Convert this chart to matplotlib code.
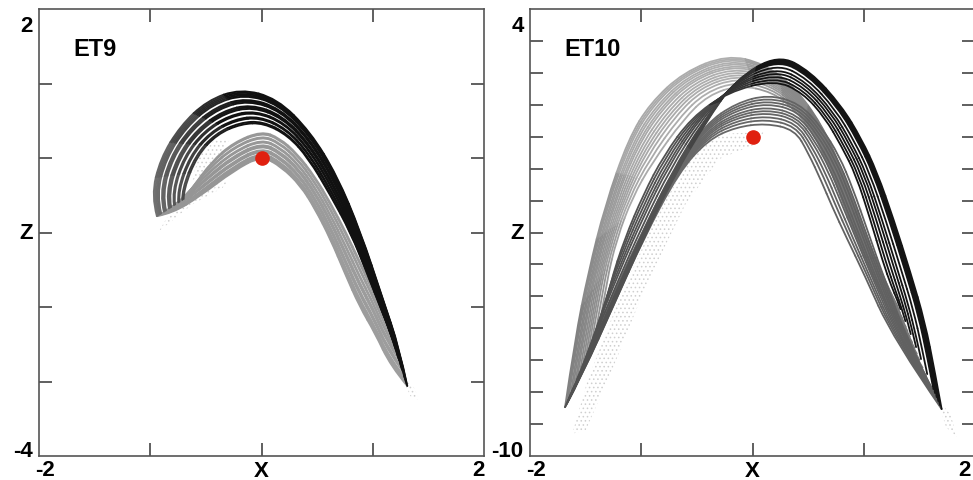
import numpy as np
import matplotlib
matplotlib.use("Agg")
from matplotlib import pyplot as plt
from matplotlib.path import Path
from matplotlib.patches import PathPatch, Polygon
from matplotlib.collections import PatchCollection

# ---- ET9: band edges, (x, z) pairs ----
et9_dark_outer = [(-0.94, -0.78), (-0.99, -0.51), (-0.91, -0.01), (-0.73, 0.43), (-0.49, 0.77),
                  (-0.19, 0.93), (0.14, 0.80), (0.44, 0.35), (0.68, -0.24), (0.89, -0.99),
                  (1.09, -1.89), (1.24, -2.56), (1.31, -3.06)]
et9_dark_inner = [(-0.70, -0.55), (-0.70, -0.42), (-0.58, 0.03), (-0.40, 0.32), (-0.18, 0.46),
                  (0.02, 0.47), (0.24, 0.30), (0.42, 0.00), (0.62, -0.50), (0.80, -1.00),
                  (0.95, -1.55), (1.08, -2.05), (1.15, -2.30)]
et9_gray_outer = [(1.31, -3.06), (1.16, -2.79), (1.02, -2.35), (0.88, -1.99), (0.75, -1.55),
                  (0.62, -1.09), (0.48, -0.68), (0.35, -0.37), (0.18, -0.12), (0.00, 0.03),
                  (-0.25, -0.17), (-0.55, -0.51), (-0.80, -0.74), (-0.94, -0.78)]
et9_gray_inner = [(1.15, -2.30), (1.08, -2.05), (0.98, -1.70), (0.88, -1.38), (0.76, -1.00),
                  (0.62, -0.60), (0.48, -0.25), (0.32, 0.06), (0.16, 0.27), (0.00, 0.36),
                  (-0.25, 0.21), (-0.45, -0.05), (-0.62, -0.40), (-0.70, -0.55)]
et9_strands = [0, 0.04, 0.08, 0.12, 0.16, 0.26, 0.3, 0.34, 0.45, 0.49, 0.53, 0.64, 0.68, 0.8, 0.84, 0.95, 1.0]
# faint scattered points inside the crescent
et9_haze = [[(-0.63, -0.30), (-0.56, 0.02), (-0.42, 0.24), (-0.28, 0.26), (-0.40, 0.02), (-0.55, -0.25)],
            [(-0.92, -0.98), (-0.62, -0.62), (-0.35, -0.40), (-0.30, -0.30), (-0.58, -0.52), (-0.85, -0.80)],
            [(1.28, -3.00), (1.36, -3.05), (1.42, -3.25), (1.34, -3.20)]]

# ---- ET10 ----
et10_light_outer = [(-1.685, -8.47), (-1.596, -6.34), (-1.476, -4.25), (-1.326, -2.16), (-1.116, -0.07),
                    (-0.92, 1.05), (-0.62, 2.02), (-0.23, 2.56), (0.10, 2.30), (0.38, 1.55),
                    (0.62, 0.40), (0.80, -1.00), (0.98, -2.70), (1.16, -4.30), (1.30, -5.30)]
et10_light_inner = [(-1.38, -6.00), (-1.31, -4.50), (-1.22, -3.20), (-1.08, -1.90), (-0.90, -0.80),
                    (-0.62, 0.55), (-0.40, 1.30), (-0.12, 1.62), (0.18, 1.40), (0.38, 0.85),
                    (0.55, 0.10), (0.70, -1.00), (0.88, -2.70), (1.15, -5.00), (1.56, -7.50)]
et10_light_strands = [0, 0.05, 0.1, 0.17, 0.23, 0.3, 0.36, 0.44, 0.52, 0.6, 0.68, 0.77, 0.88, 1.0]

et10_mid_outer = [(-1.60, -7.90), (-1.44, -6.50), (-1.22, -4.70), (-0.98, -2.90), (-0.72, -1.10),
                  (-0.42, 0.40), (-0.15, 1.05), (0.14, 1.32), (0.42, 1.05), (0.62, 0.30),
                  (0.78, -0.60), (0.90, -1.60), (1.04, -3.00), (1.20, -4.60), (1.40, -6.40),
                  (1.60, -7.80)]
et10_mid_inner = [(-1.685, -8.47), (-1.52, -7.38), (-1.25, -5.29), (-0.98, -3.20), (-0.66, -1.10),
                  (-0.40, -0.10), (-0.15, 0.30), (0.12, 0.42), (0.38, 0.22), (0.50, -0.50),
                  (0.62, -1.40), (0.712, -2.16), (0.85, -3.20), (0.996, -4.25), (1.266, -6.34),
                  (1.70, -8.53)]
et10_mid_strands = [0, 0.1, 0.2, 0.3, 0.42, 0.52, 0.62, 0.74, 0.86, 1.0]

et10_dark_outer = [(-1.685, -8.47), (-1.52, -7.38), (-1.25, -5.29), (-0.98, -3.20), (-0.70, -1.20),
                   (-0.42, 0.45), (-0.15, 1.80), (0.23, 2.58), (0.52, 2.05), (0.80, 0.97),
                   (0.98, -0.07), (1.12, -1.11), (1.27, -2.60), (1.42, -4.25), (1.55, -5.80),
                   (1.64, -7.38), (1.70, -8.53)]
et10_dark_inner = [(-1.38, -6.00), (-1.28, -4.60), (-1.15, -3.20), (-0.98, -1.80), (-0.80, -0.60),
                   (-0.55, 0.60), (-0.22, 1.40), (0.20, 1.78), (0.45, 1.38), (0.65, 0.60),
                   (0.80, -0.30), (0.93, -1.20), (1.06, -2.60), (1.17, -3.90), (1.25, -4.70),
                   (1.30, -5.10), (1.33, -5.40)]
et10_dark_strands = [0, 0.04, 0.08, 0.12, 0.16, 0.2, 0.35, 0.5, 0.62, 0.75, 0.88, 1.0]
et10_haze = [[(0.10, 0.15), (-0.20, 0.10), (-0.48, -0.20), (-0.85, -2.40), (-1.20, -5.10),
              (-1.48, -7.60), (-1.62, -9.30), (-1.50, -9.20), (-1.25, -7.20), (-0.95, -4.60),
              (-0.60, -2.10), (-0.30, -0.70), (0.05, -0.20)],
             [(1.66, -8.20), (1.78, -8.70), (1.84, -9.40), (1.74, -9.10)]]

equilibrium = (0.0, 0.0)


def spline_pieces(pts):
    # quadratic b-spline: read points act as control points, knots at midpoints
    knots = np.vstack([pts[:1], (pts[1:-2] + pts[2:-1]) / 2, pts[-1:]])
    paths = [Path([knots[j], pts[j + 1], knots[j + 1]],
                  [Path.MOVETO, Path.CURVE3, Path.CURVE3]) for j in range(len(pts) - 2)]
    return paths, pts[1:-1]


def draw_family(ax, edge_a, edge_b, strands, shade_x, shade_v, lw=1.3):
    a = np.asarray(edge_a, float)
    b = np.asarray(edge_b, float)
    for f in strands:
        paths, ctrl = spline_pieces(a + f * (b - a))
        shades = np.interp(ctrl[:, 0], shade_x, shade_v)
        coll = PatchCollection([PathPatch(p) for p in paths], facecolor="none",
                               edgecolor=plt.cm.gray(shades), linewidth=lw, capstyle="round")
        ax.add_collection(coll)


def draw_haze(ax, polys):
    for poly in polys:
        ax.add_patch(Polygon(poly, closed=True, facecolor="none", edgecolor="#cfcfcf",
                             linewidth=0, hatch="....", zorder=0.5))


def style_axes(ax, xlim, zlim, title, right_label_dx=-4):
    ax.set_xlim(*xlim)
    ax.set_ylim(*zlim)
    ax.set_xticks(np.arange(xlim[0] + 1, xlim[1]))
    ax.set_yticks(np.arange(zlim[0] + 1, zlim[1]))
    ax.set_xticklabels([])
    ax.set_yticklabels([])
    ax.tick_params(direction="in", length=9.5, width=1.2, color="#444444",
                   top=True, right=True)
    for s in ax.spines.values():
        s.set_color("#555555")
        s.set_linewidth(1.2)
    font = dict(fontsize=16, fontweight="bold", family="Liberation Sans", color="black",
                annotation_clip=False)
    tr = ax.transAxes
    ax.annotate(str(xlim[0]), (0, 0), xycoords=tr, xytext=(4.5, -2.5), textcoords="offset points",
                ha="center", va="top", **font)
    ax.annotate("X", (0.5, 0), xycoords=tr, xytext=(0, -3), textcoords="offset points",
                ha="center", va="top", **font)
    ax.annotate(str(xlim[1]), (1, 0), xycoords=tr, xytext=(right_label_dx, -2.5), textcoords="offset points",
                ha="center", va="top", **font)
    ax.annotate(str(zlim[1]), (0, 1), xycoords=tr, xytext=(-4.5, -16), textcoords="offset points",
                ha="right", va="baseline", **font)
    ax.annotate("Z", (0, 0.5), xycoords=tr, xytext=(-4.5, 0), textcoords="offset points",
                ha="right", va="center", **font)
    ax.annotate(str(zlim[0]), (0, 0), xycoords=tr, xytext=(-4.5, 0), textcoords="offset points",
                ha="right", va="baseline", **font)
    ax.annotate(title, (0, 1), xycoords=tr, xytext=(24.5, -20.5), textcoords="offset points",
                ha="left", va="top", fontsize=17, fontweight="bold", family="Liberation Sans")


plt.rcParams["hatch.linewidth"] = 0.6

fig = plt.figure(figsize=(9.73, 4.81), dpi=100)
ax1 = fig.add_axes([39 / 973, 24 / 481, 445 / 973, 447 / 481])
ax2 = fig.add_axes([530 / 973, 24 / 481, 445 / 973, 447 / 481])

draw_haze(ax1, et9_haze)
draw_family(ax1, et9_gray_outer, et9_gray_inner, et9_strands, [-1.0, 1.3], [0.58, 0.62], lw=1.4)
draw_family(ax1, et9_dark_outer, et9_dark_inner, et9_strands, [-1.0, -0.3], [0.45, 0.07], lw=1.4)
ax1.plot(*equilibrium, "o", color="#e0200f", markersize=9.5, zorder=5)
style_axes(ax1, (-2, 2), (-4, 2), "ET9")

draw_haze(ax2, et10_haze)
draw_family(ax2, et10_light_outer, et10_light_inner, et10_light_strands,
            [-1.6, -1.1, -0.1, 0.6], [0.5, 0.66, 0.69, 0.47])
draw_family(ax2, et10_mid_outer, et10_mid_inner, et10_mid_strands, [-1.0, 1.0], [0.42, 0.38])
draw_family(ax2, et10_dark_outer, et10_dark_inner, et10_dark_strands, [-0.6, 0.2], [0.32, 0.08])
ax2.plot(*equilibrium, "o", color="#e0200f", markersize=9.5, zorder=5)
style_axes(ax2, (-2, 2), (-10, 4), "ET10", right_label_dx=-7.5)

fig.savefig("out.png", dpi=100)
